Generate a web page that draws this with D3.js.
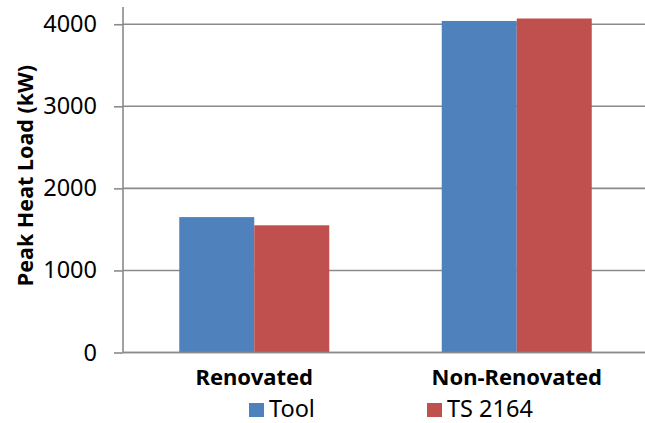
<!DOCTYPE html>
<html>
<head>
<meta charset="utf-8">
<script src="https://cdn.jsdelivr.net/npm/d3@7/dist/d3.min.js"></script>
<style>
  html, body { margin: 0; padding: 0; background: #fff; }
  svg { display: block; font-family: "Noto Sans", "Open Sans", sans-serif; }
</style>
</head>
<body>
<svg id="chart" width="645" height="423"></svg>
<script>
// Peak heat load, tool estimate vs. TS 2164 standard
const categories = ["Renovated", "Non-Renovated"];
const seriesNames = ["Tool", "TS 2164"];
const toolValues = [1650, 4040];
const ts2164Values = [1550, 4070];
const yTicks = [0, 1000, 2000, 3000, 4000];
const colors = ["#4F81BD", "#C0504D"];

const svg = d3.select("#chart");
const plot = { left: 123, right: 648, top: 7, bottom: 352.5 };

const x0 = d3.scaleBand()
  .domain(categories)
  .range([plot.left, plot.right])
  .paddingInner(0)
  .paddingOuter(0);

// 150% gap width: each band holds two bars plus 1.5 bar widths of space
const barW = x0.bandwidth() / 3.5;
const x1 = d3.scaleBand()
  .domain(seriesNames)
  .range([0, barW * 2]);

const y = d3.scaleLinear()
  .domain([0, 4210])
  .range([plot.bottom, plot.top]);

// horizontal gridlines
svg.append("g")
  .selectAll("line")
  .data(yTicks)
  .join("line")
  .attr("x1", plot.left)
  .attr("x2", 645)
  .attr("y1", d => y(d))
  .attr("y2", d => y(d))
  .attr("stroke", "#8a8a8a")
  .attr("stroke-width", 1.6);

// bars
const rows = categories.map((c, i) => ({ cat: c, vals: [toolValues[i], ts2164Values[i]] }));
svg.append("g")
  .selectAll("g")
  .data(rows)
  .join("g")
  .attr("transform", d => `translate(${x0(d.cat) + barW * 0.75},0)`)
  .selectAll("rect")
  .data(d => d.vals.map((v, j) => ({ name: seriesNames[j], v, j })))
  .join("rect")
  .attr("x", d => x1(d.name))
  .attr("width", x1.bandwidth())
  .attr("y", d => y(d.v))
  .attr("height", d => y(0) - y(d.v))
  .attr("fill", d => colors[d.j]);

// y axis
const yAxis = d3.axisLeft(y)
  .tickValues(yTicks)
  .tickSize(9)
  .tickPadding(17)
  .tickFormat(d3.format("d"));
const gy = svg.append("g")
  .attr("transform", `translate(${plot.left},0)`)
  .call(yAxis);
gy.select(".domain").attr("stroke", "#8a8a8a").attr("stroke-width", 1.6)
  .attr("d", `M-0,${plot.top}V${plot.bottom}`);
gy.selectAll(".tick line").attr("stroke", "#8a8a8a").attr("stroke-width", 1.6);
gy.selectAll(".tick text")
  .attr("font-size", 23.5)
  .attr("fill", "#000")
  .attr("font-family", "'Noto Sans', sans-serif");

// x axis baseline
svg.append("line")
  .attr("x1", plot.left).attr("x2", 645)
  .attr("y1", y(0)).attr("y2", y(0))
  .attr("stroke", "#8a8a8a").attr("stroke-width", 1.6);

// category labels
svg.append("g")
  .selectAll("text")
  .data(categories)
  .join("text")
  .attr("x", d => x0(d) + x0.bandwidth() / 2)
  .attr("y", 385)
  .attr("text-anchor", "middle")
  .attr("font-size", 22)
  .attr("font-weight", "bold")
  .text(d => d);

// y axis title
svg.append("text")
  .attr("transform", "translate(33,175.5) rotate(-90)")
  .attr("text-anchor", "middle")
  .attr("font-size", 21.5)
  .attr("font-weight", "bold")
  .text("Peak Heat Load (kW)");

// legend
const legendX = [249, 427];
const legend = svg.append("g")
  .selectAll("g")
  .data(seriesNames)
  .join("g")
  .attr("transform", (d, i) => `translate(${legendX[i]},0)`);
legend.append("rect")
  .attr("x", 0).attr("y", 403)
  .attr("width", 15).attr("height", 14)
  .attr("fill", (d, i) => colors[i]);
legend.append("text")
  .attr("x", 20).attr("y", 417)
  .attr("font-size", 23.5)
  .text(d => d);
</script>
</body>
</html>
